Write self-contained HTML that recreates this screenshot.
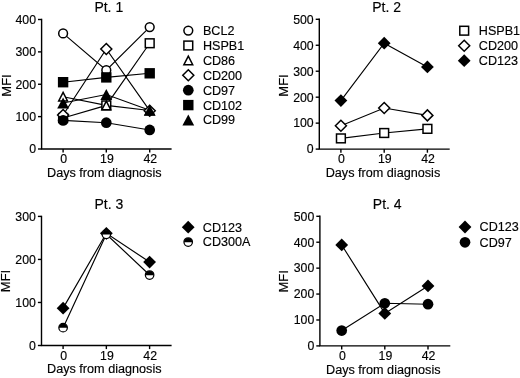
<!DOCTYPE html>
<html><head><meta charset="utf-8"><style>
html,body{margin:0;padding:0;background:#fff;}
body{width:520px;height:378px;overflow:hidden;}
svg{display:block;font-family:"Liberation Sans", sans-serif;will-change:transform;}
text{fill:#000;stroke:#000;stroke-width:0.15px;}
</style></head><body>
<svg width="520" height="378" viewBox="0 0 520 378">
<rect width="520" height="378" fill="#fff"/>
<path d="M41.60,19.50 V149.00 H170.90" fill="none" stroke="#000" stroke-width="1.4" stroke-linecap="square"/>
<path d="M38.00,149.00 H41.60" stroke="#000" stroke-width="1.4"/>
<text x="36.00" y="153.35" font-size="12.3" text-anchor="end">0</text>
<path d="M38.00,116.62 H41.60" stroke="#000" stroke-width="1.4"/>
<text x="36.00" y="120.97" font-size="12.3" text-anchor="end">100</text>
<path d="M38.00,84.25 H41.60" stroke="#000" stroke-width="1.4"/>
<text x="36.00" y="88.60" font-size="12.3" text-anchor="end">200</text>
<path d="M38.00,51.88 H41.60" stroke="#000" stroke-width="1.4"/>
<text x="36.00" y="56.23" font-size="12.3" text-anchor="end">300</text>
<path d="M38.00,19.50 H41.60" stroke="#000" stroke-width="1.4"/>
<text x="36.00" y="23.85" font-size="12.3" text-anchor="end">400</text>
<path d="M63.10,149.00 V152.60" stroke="#000" stroke-width="1.4"/>
<text x="63.70" y="163.30" font-size="12.3" text-anchor="middle">0</text>
<path d="M106.30,149.00 V152.60" stroke="#000" stroke-width="1.4"/>
<text x="106.90" y="163.30" font-size="12.3" text-anchor="middle">19</text>
<path d="M149.70,149.00 V152.60" stroke="#000" stroke-width="1.4"/>
<text x="150.30" y="163.30" font-size="12.3" text-anchor="middle">42</text>
<text x="47.00" y="176.90" font-size="12.65" text-anchor="start">Days from diagnosis</text>
<text x="0" y="0" font-size="13" text-anchor="middle" transform="translate(10.50,85.50) rotate(-90)">MFI</text>
<text x="108.80" y="12.10" font-size="14" text-anchor="middle">Pt. 1</text>
<path d="M63.10,33.40 L106.30,70.20 L149.70,27.10" fill="none" stroke="#000" stroke-width="1.15"/>
<path d="M63.10,118.00 L106.30,105.40 L149.70,43.25" fill="none" stroke="#000" stroke-width="1.15"/>
<path d="M63.10,96.70 L106.30,105.40 L149.70,110.50" fill="none" stroke="#000" stroke-width="1.15"/>
<path d="M63.10,115.00 L106.30,49.00 L149.70,110.70" fill="none" stroke="#000" stroke-width="1.15"/>
<path d="M63.10,120.40 L106.30,122.70 L149.70,129.95" fill="none" stroke="#000" stroke-width="1.15"/>
<path d="M63.10,82.20 L106.30,77.40 L149.70,73.30" fill="none" stroke="#000" stroke-width="1.15"/>
<path d="M63.10,103.00 L106.30,94.50 L149.70,110.20" fill="none" stroke="#000" stroke-width="1.15"/>
<circle cx="63.10" cy="33.40" r="4.4" fill="#fff" stroke="#000" stroke-width="1.5"/>
<circle cx="106.30" cy="70.20" r="4.4" fill="#fff" stroke="#000" stroke-width="1.5"/>
<circle cx="149.70" cy="27.10" r="4.4" fill="#fff" stroke="#000" stroke-width="1.5"/>
<rect x="58.70" y="113.60" width="8.80" height="8.80" fill="#fff" stroke="#000" stroke-width="1.5"/>
<rect x="101.90" y="101.00" width="8.80" height="8.80" fill="#fff" stroke="#000" stroke-width="1.5"/>
<rect x="145.30" y="38.85" width="8.80" height="8.80" fill="#fff" stroke="#000" stroke-width="1.5"/>
<path d="M63.10,92.45 L67.50,100.95 L58.70,100.95 Z" fill="#fff" stroke="#000" stroke-width="1.5"/>
<path d="M106.30,101.15 L110.70,109.65 L101.90,109.65 Z" fill="#fff" stroke="#000" stroke-width="1.5"/>
<path d="M149.70,106.25 L154.10,114.75 L145.30,114.75 Z" fill="#fff" stroke="#000" stroke-width="1.5"/>
<path d="M63.10,109.50 L68.60,115.00 L63.10,120.50 L57.60,115.00 Z" fill="#fff" stroke="#000" stroke-width="1.5"/>
<path d="M106.30,43.50 L111.80,49.00 L106.30,54.50 L100.80,49.00 Z" fill="#fff" stroke="#000" stroke-width="1.5"/>
<path d="M149.70,105.20 L155.20,110.70 L149.70,116.20 L144.20,110.70 Z" fill="#fff" stroke="#000" stroke-width="1.5"/>
<circle cx="63.10" cy="120.40" r="5.35" fill="#000"/>
<circle cx="106.30" cy="122.70" r="5.35" fill="#000"/>
<circle cx="149.70" cy="129.95" r="5.35" fill="#000"/>
<rect x="57.90" y="77.00" width="10.40" height="10.40" fill="#000"/>
<rect x="101.10" y="72.20" width="10.40" height="10.40" fill="#000"/>
<rect x="144.50" y="68.10" width="10.40" height="10.40" fill="#000"/>
<path d="M63.10,97.50 L69.00,108.50 L57.20,108.50 Z" fill="#000"/>
<path d="M106.30,89.00 L112.20,100.00 L100.40,100.00 Z" fill="#000"/>
<path d="M149.70,104.70 L155.60,115.70 L143.80,115.70 Z" fill="#000"/>
<circle cx="188.30" cy="30.60" r="4.4" fill="#fff" stroke="#000" stroke-width="1.5"/>
<text x="202.90" y="35.00" font-size="12.6" text-anchor="start">BCL2</text>
<rect x="183.90" y="41.10" width="8.80" height="8.80" fill="#fff" stroke="#000" stroke-width="1.5"/>
<text x="202.90" y="49.90" font-size="12.6" text-anchor="start">HSPB1</text>
<path d="M188.30,56.15 L192.70,64.65 L183.90,64.65 Z" fill="#fff" stroke="#000" stroke-width="1.5"/>
<text x="202.90" y="64.80" font-size="12.6" text-anchor="start">CD86</text>
<path d="M188.30,69.80 L193.80,75.30 L188.30,80.80 L182.80,75.30 Z" fill="#fff" stroke="#000" stroke-width="1.5"/>
<text x="202.90" y="79.70" font-size="12.6" text-anchor="start">CD200</text>
<circle cx="188.30" cy="90.20" r="5.35" fill="#000"/>
<text x="202.90" y="94.60" font-size="12.6" text-anchor="start">CD97</text>
<rect x="183.10" y="99.90" width="10.40" height="10.40" fill="#000"/>
<text x="202.90" y="109.50" font-size="12.6" text-anchor="start">CD102</text>
<path d="M188.30,114.50 L194.20,125.50 L182.40,125.50 Z" fill="#000"/>
<text x="202.90" y="124.40" font-size="12.6" text-anchor="start">CD99</text>
<path d="M319.30,19.30 V149.10 H449.00" fill="none" stroke="#000" stroke-width="1.4" stroke-linecap="square"/>
<path d="M315.70,149.10 H319.30" stroke="#000" stroke-width="1.4"/>
<text x="313.70" y="153.45" font-size="12.3" text-anchor="end">0</text>
<path d="M315.70,123.14 H319.30" stroke="#000" stroke-width="1.4"/>
<text x="313.70" y="127.49" font-size="12.3" text-anchor="end">100</text>
<path d="M315.70,97.18 H319.30" stroke="#000" stroke-width="1.4"/>
<text x="313.70" y="101.53" font-size="12.3" text-anchor="end">200</text>
<path d="M315.70,71.22 H319.30" stroke="#000" stroke-width="1.4"/>
<text x="313.70" y="75.57" font-size="12.3" text-anchor="end">300</text>
<path d="M315.70,45.26 H319.30" stroke="#000" stroke-width="1.4"/>
<text x="313.70" y="49.61" font-size="12.3" text-anchor="end">400</text>
<path d="M315.70,19.30 H319.30" stroke="#000" stroke-width="1.4"/>
<text x="313.70" y="23.65" font-size="12.3" text-anchor="end">500</text>
<path d="M340.90,149.10 V152.70" stroke="#000" stroke-width="1.4"/>
<text x="341.50" y="163.40" font-size="12.3" text-anchor="middle">0</text>
<path d="M384.20,149.10 V152.70" stroke="#000" stroke-width="1.4"/>
<text x="384.80" y="163.40" font-size="12.3" text-anchor="middle">19</text>
<path d="M427.40,149.10 V152.70" stroke="#000" stroke-width="1.4"/>
<text x="428.00" y="163.40" font-size="12.3" text-anchor="middle">42</text>
<text x="325.70" y="177.00" font-size="12.65" text-anchor="start">Days from diagnosis</text>
<text x="0" y="0" font-size="13" text-anchor="middle" transform="translate(288.20,85.50) rotate(-90)">MFI</text>
<text x="386.60" y="12.20" font-size="14" text-anchor="middle">Pt. 2</text>
<path d="M340.90,138.40 L384.20,133.00 L427.40,128.85" fill="none" stroke="#000" stroke-width="1.15"/>
<path d="M340.90,125.80 L384.20,108.00 L427.40,115.40" fill="none" stroke="#000" stroke-width="1.15"/>
<path d="M340.90,100.60 L384.20,43.15 L427.40,66.95" fill="none" stroke="#000" stroke-width="1.15"/>
<rect x="336.50" y="134.00" width="8.80" height="8.80" fill="#fff" stroke="#000" stroke-width="1.5"/>
<rect x="379.80" y="128.60" width="8.80" height="8.80" fill="#fff" stroke="#000" stroke-width="1.5"/>
<rect x="423.00" y="124.45" width="8.80" height="8.80" fill="#fff" stroke="#000" stroke-width="1.5"/>
<path d="M340.90,120.30 L346.40,125.80 L340.90,131.30 L335.40,125.80 Z" fill="#fff" stroke="#000" stroke-width="1.5"/>
<path d="M384.20,102.50 L389.70,108.00 L384.20,113.50 L378.70,108.00 Z" fill="#fff" stroke="#000" stroke-width="1.5"/>
<path d="M427.40,109.90 L432.90,115.40 L427.40,120.90 L421.90,115.40 Z" fill="#fff" stroke="#000" stroke-width="1.5"/>
<path d="M340.90,94.20 L347.30,100.60 L340.90,107.00 L334.50,100.60 Z" fill="#000"/>
<path d="M384.20,36.75 L390.60,43.15 L384.20,49.55 L377.80,43.15 Z" fill="#000"/>
<path d="M427.40,60.55 L433.80,66.95 L427.40,73.35 L421.00,66.95 Z" fill="#000"/>
<rect x="459.80" y="26.30" width="8.80" height="8.80" fill="#fff" stroke="#000" stroke-width="1.5"/>
<text x="478.80" y="35.10" font-size="12.6" text-anchor="start">HSPB1</text>
<path d="M464.20,40.20 L469.70,45.70 L464.20,51.20 L458.70,45.70 Z" fill="#fff" stroke="#000" stroke-width="1.5"/>
<text x="478.80" y="50.10" font-size="12.6" text-anchor="start">CD200</text>
<path d="M464.20,54.30 L470.60,60.70 L464.20,67.10 L457.80,60.70 Z" fill="#000"/>
<text x="478.80" y="65.10" font-size="12.6" text-anchor="start">CD123</text>
<path d="M41.50,216.40 V345.50 H170.90" fill="none" stroke="#000" stroke-width="1.4" stroke-linecap="square"/>
<path d="M37.90,345.50 H41.50" stroke="#000" stroke-width="1.4"/>
<text x="35.90" y="349.85" font-size="12.3" text-anchor="end">0</text>
<path d="M37.90,302.47 H41.50" stroke="#000" stroke-width="1.4"/>
<text x="35.90" y="306.82" font-size="12.3" text-anchor="end">100</text>
<path d="M37.90,259.43 H41.50" stroke="#000" stroke-width="1.4"/>
<text x="35.90" y="263.78" font-size="12.3" text-anchor="end">200</text>
<path d="M37.90,216.40 H41.50" stroke="#000" stroke-width="1.4"/>
<text x="35.90" y="220.75" font-size="12.3" text-anchor="end">300</text>
<path d="M63.10,345.50 V349.10" stroke="#000" stroke-width="1.4"/>
<text x="63.70" y="359.80" font-size="12.3" text-anchor="middle">0</text>
<path d="M106.35,345.50 V349.10" stroke="#000" stroke-width="1.4"/>
<text x="106.95" y="359.80" font-size="12.3" text-anchor="middle">19</text>
<path d="M149.60,345.50 V349.10" stroke="#000" stroke-width="1.4"/>
<text x="150.20" y="359.80" font-size="12.3" text-anchor="middle">42</text>
<text x="47.05" y="373.40" font-size="12.65" text-anchor="start">Days from diagnosis</text>
<text x="0" y="0" font-size="13" text-anchor="middle" transform="translate(10.40,281.00) rotate(-90)">MFI</text>
<text x="108.90" y="208.60" font-size="14" text-anchor="middle">Pt. 3</text>
<path d="M63.10,308.15 L106.35,233.30 L149.60,262.05" fill="none" stroke="#000" stroke-width="1.15"/>
<path d="M63.10,327.65 L106.35,234.30 L149.60,275.00" fill="none" stroke="#000" stroke-width="1.15"/>
<path d="M63.10,301.75 L69.50,308.15 L63.10,314.55 L56.70,308.15 Z" fill="#000"/>
<path d="M106.35,226.90 L112.75,233.30 L106.35,239.70 L99.95,233.30 Z" fill="#000"/>
<path d="M149.60,255.65 L156.00,262.05 L149.60,268.45 L143.20,262.05 Z" fill="#000"/>
<circle cx="63.10" cy="327.65" r="4.25" fill="#fff" stroke="#000" stroke-width="1.25"/>
<path d="M58.85,327.85 A4.25,4.25 0 0 1 67.35,327.85 Z" fill="#000"/>
<circle cx="106.35" cy="234.30" r="4.25" fill="#fff" stroke="#000" stroke-width="1.25"/>
<path d="M102.10,234.50 A4.25,4.25 0 0 1 110.60,234.50 Z" fill="#000"/>
<circle cx="149.60" cy="275.00" r="4.25" fill="#fff" stroke="#000" stroke-width="1.25"/>
<path d="M145.35,275.20 A4.25,4.25 0 0 1 153.85,275.20 Z" fill="#000"/>
<path d="M188.20,220.75 L194.60,227.15 L188.20,233.55 L181.80,227.15 Z" fill="#000"/>
<text x="202.80" y="231.55" font-size="12.6" text-anchor="start">CD123</text>
<circle cx="188.20" cy="242.05" r="4.25" fill="#fff" stroke="#000" stroke-width="1.25"/>
<path d="M183.95,242.25 A4.25,4.25 0 0 1 192.45,242.25 Z" fill="#000"/>
<text x="202.80" y="246.45" font-size="12.6" text-anchor="start">CD300A</text>
<path d="M319.90,216.30 V345.90 H449.60" fill="none" stroke="#000" stroke-width="1.4" stroke-linecap="square"/>
<path d="M316.30,345.90 H319.90" stroke="#000" stroke-width="1.4"/>
<text x="314.30" y="350.25" font-size="12.3" text-anchor="end">0</text>
<path d="M316.30,319.98 H319.90" stroke="#000" stroke-width="1.4"/>
<text x="314.30" y="324.33" font-size="12.3" text-anchor="end">100</text>
<path d="M316.30,294.06 H319.90" stroke="#000" stroke-width="1.4"/>
<text x="314.30" y="298.41" font-size="12.3" text-anchor="end">200</text>
<path d="M316.30,268.14 H319.90" stroke="#000" stroke-width="1.4"/>
<text x="314.30" y="272.49" font-size="12.3" text-anchor="end">300</text>
<path d="M316.30,242.22 H319.90" stroke="#000" stroke-width="1.4"/>
<text x="314.30" y="246.57" font-size="12.3" text-anchor="end">400</text>
<path d="M316.30,216.30 H319.90" stroke="#000" stroke-width="1.4"/>
<text x="314.30" y="220.65" font-size="12.3" text-anchor="end">500</text>
<path d="M341.70,345.90 V349.50" stroke="#000" stroke-width="1.4"/>
<text x="342.30" y="360.20" font-size="12.3" text-anchor="middle">0</text>
<path d="M384.80,345.90 V349.50" stroke="#000" stroke-width="1.4"/>
<text x="385.40" y="360.20" font-size="12.3" text-anchor="middle">19</text>
<path d="M428.00,345.90 V349.50" stroke="#000" stroke-width="1.4"/>
<text x="428.60" y="360.20" font-size="12.3" text-anchor="middle">42</text>
<text x="326.00" y="373.80" font-size="12.65" text-anchor="start">Days from diagnosis</text>
<text x="0" y="0" font-size="13" text-anchor="middle" transform="translate(288.30,281.30) rotate(-90)">MFI</text>
<text x="387.20" y="209.00" font-size="14" text-anchor="middle">Pt. 4</text>
<path d="M341.70,244.95 L384.80,313.40 L428.00,285.90" fill="none" stroke="#000" stroke-width="1.15"/>
<path d="M341.70,330.55 L384.80,303.30 L428.00,304.20" fill="none" stroke="#000" stroke-width="1.15"/>
<path d="M341.70,238.55 L348.10,244.95 L341.70,251.35 L335.30,244.95 Z" fill="#000"/>
<path d="M384.80,307.00 L391.20,313.40 L384.80,319.80 L378.40,313.40 Z" fill="#000"/>
<path d="M428.00,279.50 L434.40,285.90 L428.00,292.30 L421.60,285.90 Z" fill="#000"/>
<circle cx="341.70" cy="330.55" r="5.35" fill="#000"/>
<circle cx="384.80" cy="303.30" r="5.35" fill="#000"/>
<circle cx="428.00" cy="304.20" r="5.35" fill="#000"/>
<path d="M465.00,220.60 L471.40,227.00 L465.00,233.40 L458.60,227.00 Z" fill="#000"/>
<text x="479.60" y="231.40" font-size="12.6" text-anchor="start">CD123</text>
<circle cx="465.00" cy="242.30" r="5.35" fill="#000"/>
<text x="479.60" y="246.70" font-size="12.6" text-anchor="start">CD97</text>
</svg>
</body></html>
